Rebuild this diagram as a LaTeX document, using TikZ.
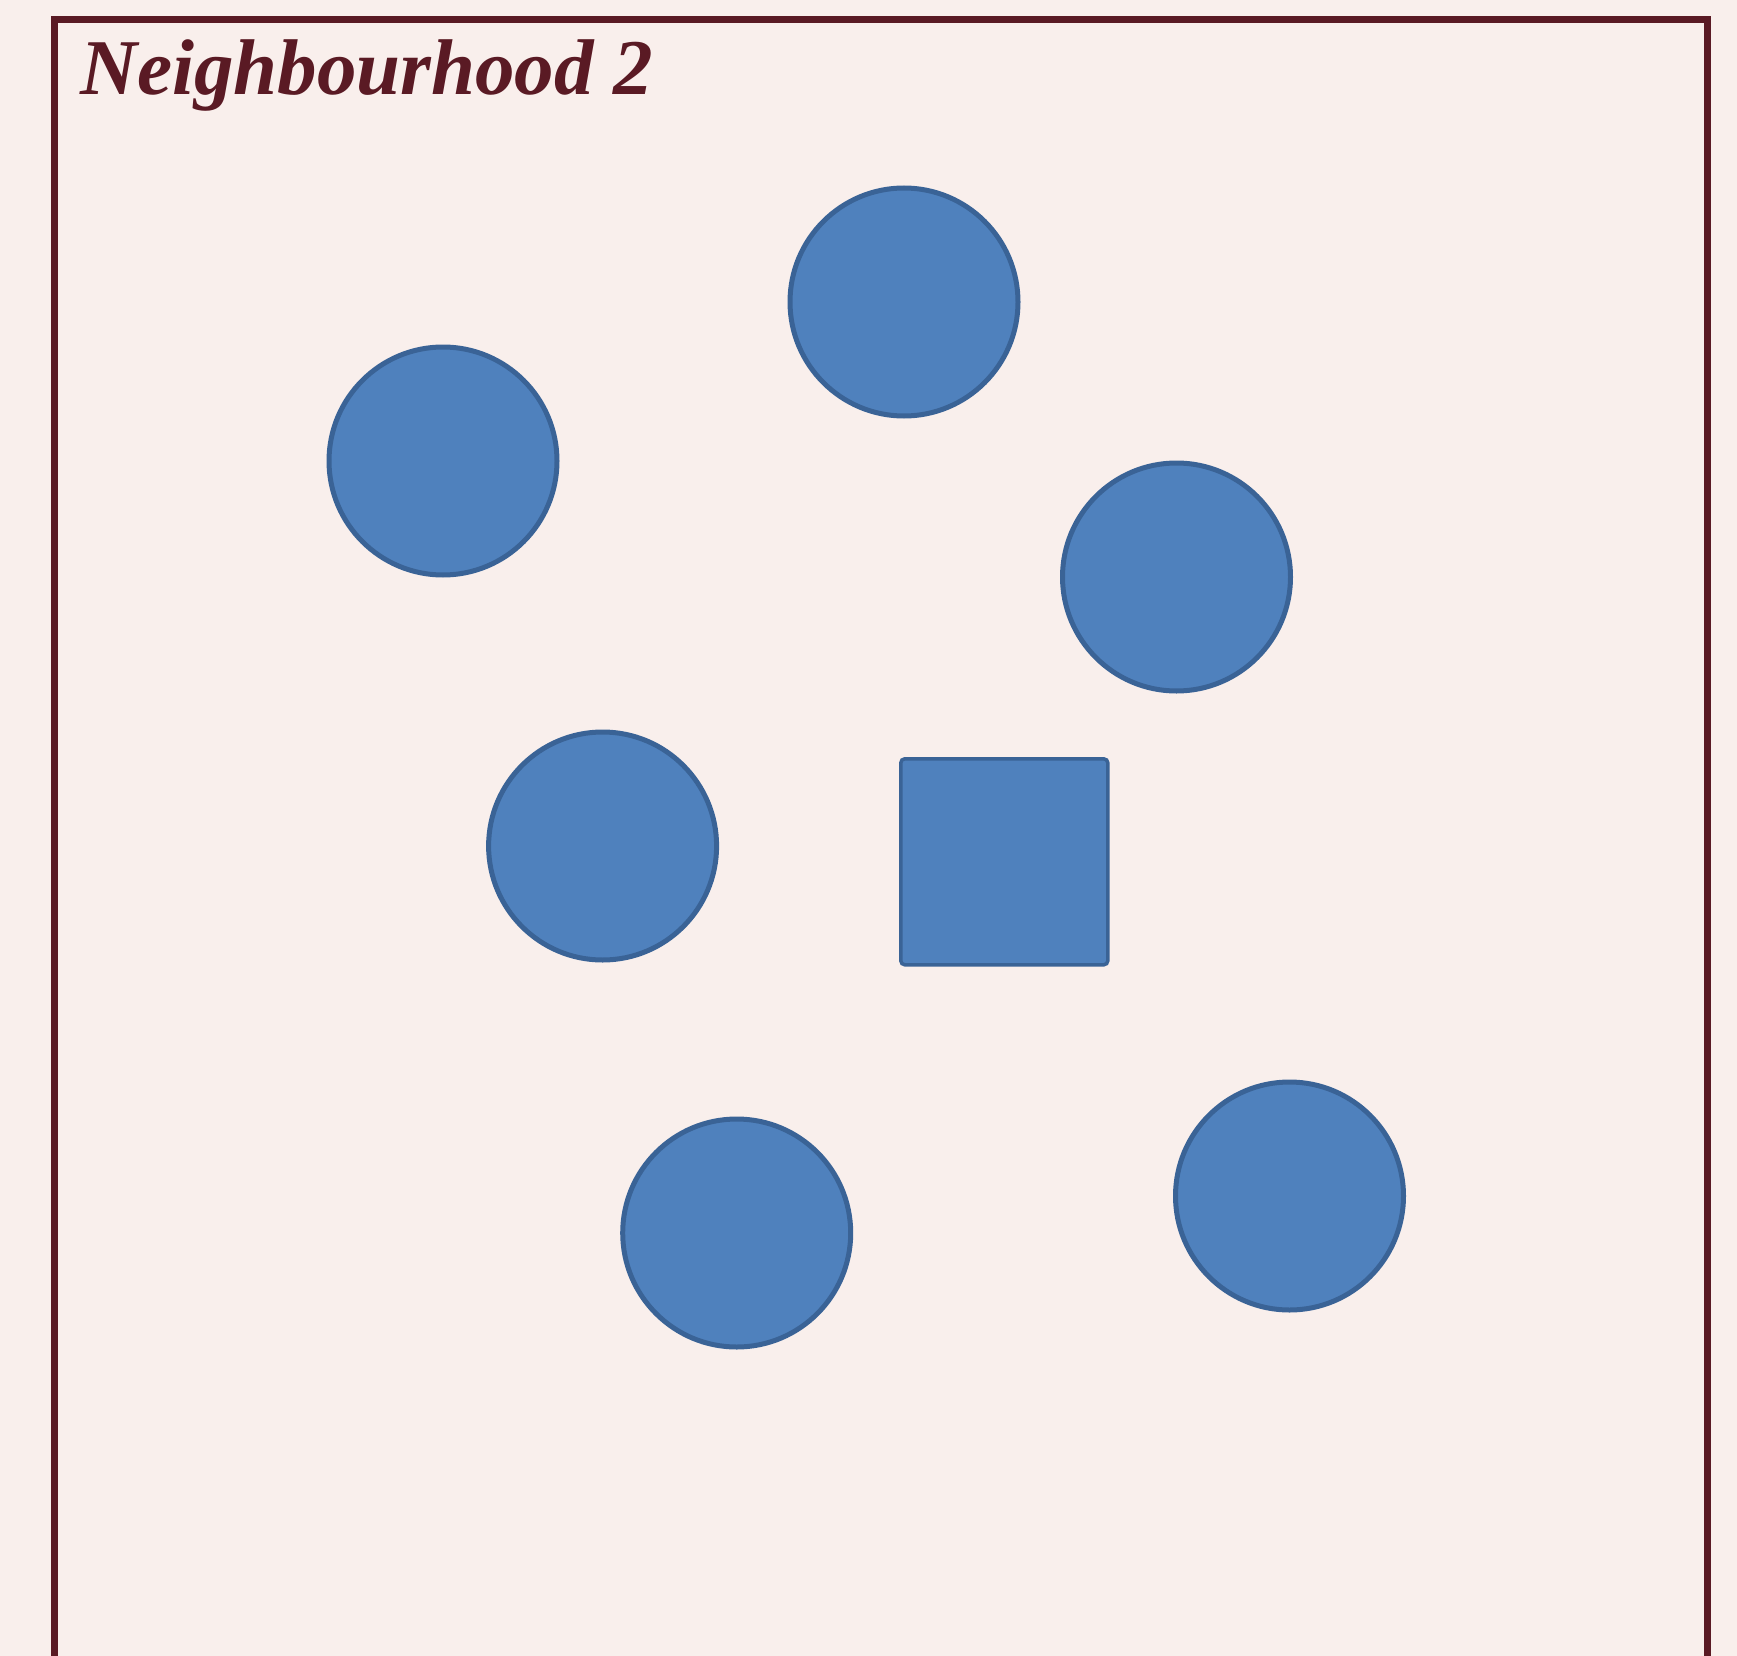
\documentclass[tikz,border=0pt]{standalone}
\usepackage{fontspec}
\setmainfont{Liberation Serif}
\definecolor{bgc}{HTML}{F9EFEC}
\definecolor{framec}{HTML}{5A1A24}
\definecolor{fillc}{HTML}{4F81BD}
\definecolor{edgec}{HTML}{3A6396}
\begin{document}
\begin{tikzpicture}[x=1pt,y=-1pt,
  agent/.style={circle,draw=edgec,fill=fillc,line width=5pt,minimum size=228pt,inner sep=0pt},
  selfnode/.style={rectangle,rounded corners=4pt,draw=edgec,fill=fillc,line width=3.5pt,minimum width=207pt,minimum height=206pt,inner sep=0pt},
  title/.style={text=framec,font=\fontsize{79}{92}\selectfont\bfseries\itshape,inner sep=0pt,anchor=base west}]
\useasboundingbox (0,0) rectangle (1737,1656);
\fill[bgc] (0,0) rectangle (1737,1656);
\draw[framec,line width=7pt] (54,1680) -- (54,20) -- (1707,20) -- (1707,1680);
\node[title] (t) at (80,95) {Neighbourhood 2};
\node[agent] (c1) at (904,302) {};
\node[agent] (c2) at (443,461) {};
\node[agent] (c3) at (1176.5,577) {};
\node[agent] (c4) at (602.6,846) {};
\node[agent] (c5) at (736.7,1233) {};
\node[agent] (c6) at (1289.5,1196) {};
\node[selfnode] (s) at (1004.3,861.8) {};
\end{tikzpicture}
\end{document}
